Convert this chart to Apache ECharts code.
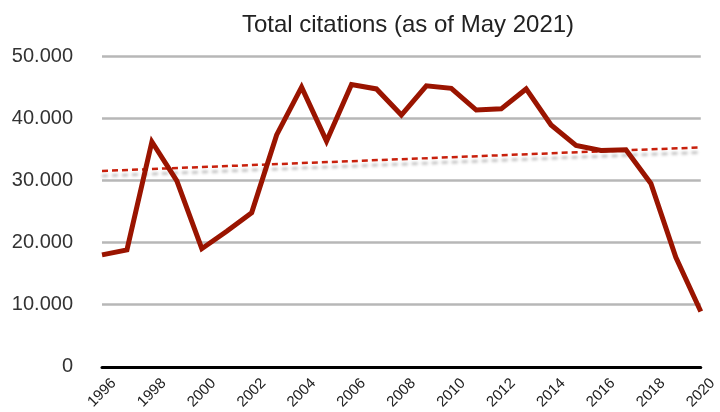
<!DOCTYPE html>
<html>
<head>
<meta charset="utf-8">
<script src="https://cdn.jsdelivr.net/npm/echarts@6/dist/echarts.min.js"></script>
<style>
html,body{margin:0;padding:0;background:#fff;}
#chart{width:720px;height:412px;}
</style>
</head>
<body>
<div id="chart"></div>
<script>
const years = ['1996','1997','1998','1999','2000','2001','2002','2003','2004','2005','2006','2007','2008','2009','2010','2011','2012','2013','2014','2015','2016','2017','2018','2019','2020'];
const citations = [18000,18800,36200,29900,19000,21800,24800,37300,45000,36300,45400,44700,40500,45200,44800,41300,41500,44700,38900,35600,34800,34900,29500,17600,8900];
const trendYears = ['1996','2020'];
const trendValues = [31500,35300];
const yTicks = [0,10000,20000,30000,40000,50000];

function fmt(v){
  return String(v).replace(/\B(?=(\d{3})+(?!\d))/g,'.');
}

const chart = echarts.init(document.getElementById('chart'));
chart.setOption({
  backgroundColor:'#fff',
  animation:false,
  title:{
    text:'Total citations (as of May 2021)',
    left:403, top:8, textAlign:'center',
    textStyle:{fontFamily:'Liberation Sans, Arial, sans-serif',fontSize:24,fontWeight:'normal',color:'#222'}
  },
  grid:{left:102,right:17,top:56,bottom:44},
  xAxis:{
    type:'category',
    data:years,
    boundaryGap:false,
    axisLine:{show:true,lineStyle:{color:'#000',width:3}},
    axisTick:{show:false},
    splitLine:{show:false},
    axisLabel:{
      interval:1,
      rotate:45,
      align:'center',
      verticalAlign:'middle',
      margin:26,
      fontFamily:'Liberation Sans, Arial, sans-serif',
      fontSize:15,
      color:'#222'
    }
  },
  yAxis:{
    type:'value',
    min:yTicks[0],
    max:yTicks[yTicks.length-1],
    interval:10000,
    axisLine:{show:false},
    axisTick:{show:false},
    splitLine:{show:true,lineStyle:{color:'#b7b7b7',width:2.5}},
    axisLabel:{
      margin:29,
      fontFamily:'Liberation Sans, Arial, sans-serif',
      fontSize:20,
      color:'#333',
      formatter:function(v){return fmt(v);}
    }
  },
  series:[
    {
      type:'line',
      data:trendYears.map((y,i)=>[y,trendValues[i]]),
      symbol:'none',
      z:2,
      lineStyle:{
        color:'#c8200c',
        width:2.5,
        type:[6,4],
        shadowColor:'rgba(0,0,0,0.28)',
        shadowBlur:3,
        shadowOffsetY:5
      }
    },
    {
      type:'line',
      data:citations,
      symbol:'none',
      z:3,
      lineStyle:{color:'#9a1400',width:5,join:'miter'}
    }
  ]
});
</script>
</body>
</html>
